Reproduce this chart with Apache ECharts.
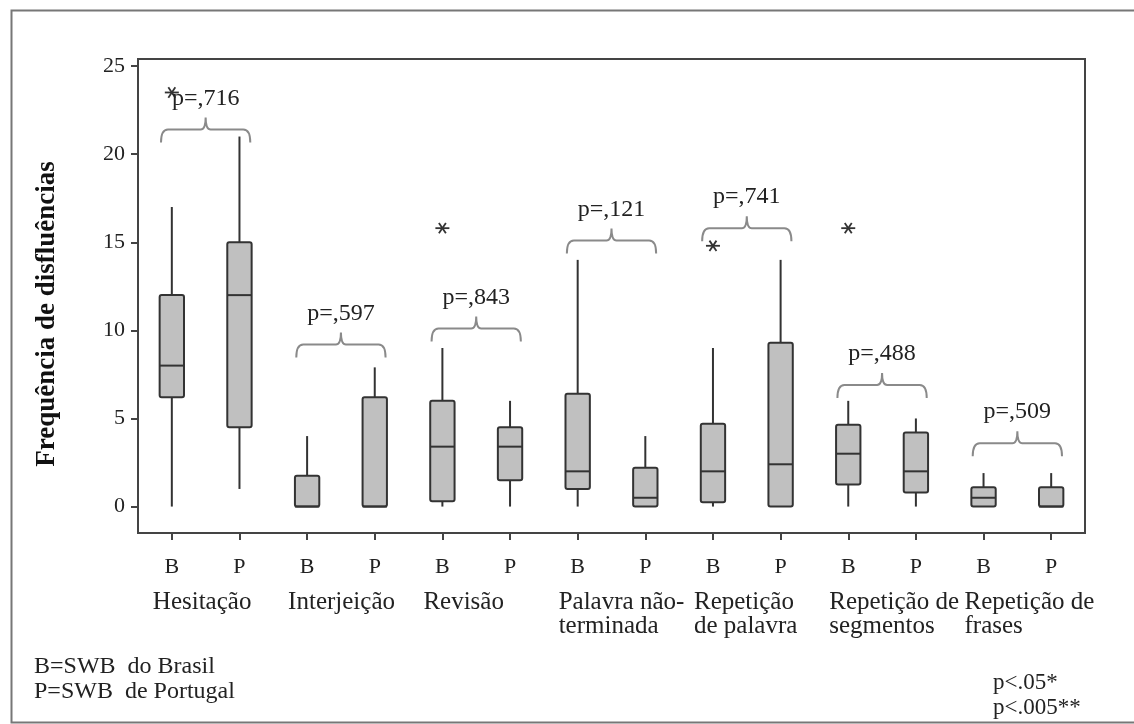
<!DOCTYPE html>
<html><head><meta charset="utf-8">
<script src="https://cdn.jsdelivr.net/npm/echarts@6/dist/echarts.min.js"></script>
<style>html,body{margin:0;padding:0;background:#fff}#c{width:1134px;height:724px}</style>
</head><body><div id="c"></div>
<script>
// ---------- data ----------
const groups = ['Hesitação', 'Interjeição', 'Revisão', 'Palavra não-\nterminada', 'Repetição\nde palavra', 'Repetição de\nsegmentos', 'Repetição de\nfrases'];
const countries = ['B', 'P'];
const categories = ['B','P','B','P','B','P','B','P','B','P','B','P','B','P'];
// [min, Q1, median, Q3, max]
const boxB = [[0,6.2,8,12,17],[0,0,0,1.75,4],[0,0.3,3.4,6,9],[0,1,2,6.4,14],[0,0.25,2,4.7,9],[0,1.25,3,4.65,6],[0,0,0.5,1.1,1.9]];
const boxP = [[1,4.5,12,15,21],[0,0,0,6.2,7.9],[0,1.5,3.4,4.5,6],[0,0,0.5,2.2,4],[0,0,2.4,9.3,14],[0,0.8,2,4.2,5],[0,0,0,1.1,1.9]];
// outliers: [category index, value]
const outliers = [[0,23.5],[4,15.8],[8,14.8],[10,15.8]];
const pLabels = ['p=,716','p=,597','p=,843','p=,121','p=,741','p=,488','p=,509'];
const braceLevels = [21.4, 9.2, 10.1, 15.1, 15.8, 6.9, 3.6];
const yTicks = [0, 5, 10, 15, 20, 25];
const yTitle = 'Frequência de disfluências';
const legendLeft = ['B=SWB  do Brasil', 'P=SWB  de Portugal'];
const legendRight = ['p<.05*', 'p<.005**'];

// ---------- build ----------
const SERIF = '"Liberation Serif", "DejaVu Serif", serif';
const boxData = [];
groups.forEach((g, i) => {
  boxData.push([2 * i].concat(boxB[i]));
  boxData.push([2 * i + 1].concat(boxP[i]));
});
const braceData = braceLevels.map((lv, i) => [2 * i, lv, pLabels[i]]);
const groupData = groups.map((g, i) => [2 * i, 0, g]);

function renderBox(params, api) {
  const x = api.value(0);
  const pMin = api.coord([x, api.value(1)]);
  const pQ1 = api.coord([x, api.value(2)]);
  const pMed = api.coord([x, api.value(3)]);
  const pQ3 = api.coord([x, api.value(4)]);
  const pMax = api.coord([x, api.value(5)]);
  const w = api.size([1, 0])[0] * 0.36;
  const cx = pMin[0];
  const ls = { stroke: '#333', lineWidth: 2 };
  return { type: 'group', children: [
    { type: 'line', shape: { x1: cx, y1: pMax[1], x2: cx, y2: pQ3[1] }, style: ls },
    { type: 'line', shape: { x1: cx, y1: pQ1[1], x2: cx, y2: pMin[1] }, style: ls },
    { type: 'rect', shape: { x: cx - w / 2, y: pQ3[1], width: w, height: pQ1[1] - pQ3[1], r: 2 }, style: { fill: '#c0c0c0', stroke: '#333', lineWidth: 2 } },
    { type: 'line', shape: { x1: cx - w / 2, y1: pMed[1], x2: cx + w / 2, y2: pMed[1] }, style: ls }
  ]};
}

function renderBrace(params, api) {
  const i0 = api.value(0);
  const pB = api.coord([i0, api.value(1)]);
  const pP = api.coord([i0 + 1, api.value(1)]);
  const cw = api.size([1, 0])[0];
  const x0 = pB[0] - cw * 0.16, x1 = pP[0] + cw * 0.16, y = pB[1];
  const xc = (x0 + x1) / 2, d = 13, r = 7;
  const path = `M${x0},${y + d} Q${x0},${y} ${x0 + r},${y} L${xc - 5},${y} Q${xc},${y} ${xc},${y - d + 1} Q${xc},${y} ${xc + 5},${y} L${x1 - r},${y} Q${x1},${y} ${x1},${y + d}`;
  return { type: 'group', children: [
    { type: 'path', shape: { pathData: path }, style: { fill: null, stroke: '#8a8a8a', lineWidth: 2 } },
    { type: 'text', x: xc, y: y - 31, style: { text: pLabels[params.dataIndex], font: '24px ' + SERIF, fill: '#222', align: 'center', verticalAlign: 'middle' } }
  ]};
}

function renderOutlier(params, api) {
  const p = api.coord([api.value(0), api.value(1)]);
  const r = 7, ch = [];
  [0, 60, 120].forEach(a => {
    const t = a * Math.PI / 180;
    ch.push({ type: 'line', shape: { x1: p[0] - r * Math.cos(t), y1: p[1] - r * Math.sin(t) * 0.85, x2: p[0] + r * Math.cos(t), y2: p[1] + r * Math.sin(t) * 0.85 }, style: { stroke: '#333', lineWidth: 1.8 } });
  });
  return { type: 'group', children: ch };
}

function renderGroup(params, api) {
  const p = api.coord([api.value(0), 0]);
  const cs = params.coordSys;
  const bottom = cs.y + cs.height;
  return { type: 'text', x: p[0] - 19, y: bottom + 57, style: { text: groups[params.dataIndex], font: '25px ' + SERIF, fill: '#222', align: 'left', verticalAlign: 'top', lineHeight: 24 } };
}

const chart = echarts.init(document.getElementById('c'), null, { renderer: 'canvas' });
chart.setOption({
  backgroundColor: '#fff',
  animation: false,
  grid: { left: 138, top: 59, right: 49, bottom: 191, show: true, borderColor: '#444', borderWidth: 2, backgroundColor: 'transparent' },
  xAxis: {
    type: 'category', data: categories, boundaryGap: true,
    axisLine: { onZero: false, lineStyle: { color: '#444', width: 2 } },
    axisTick: { show: true, alignWithLabel: true, length: 7, lineStyle: { color: '#444', width: 2 } },
    axisLabel: { color: '#222', fontFamily: SERIF, fontSize: 22, margin: 23, interval: 0 },
    splitLine: { show: false }
  },
  yAxis: {
    type: 'value', min: -1.5, max: 25.4,
    axisLine: { show: true, lineStyle: { color: '#444', width: 2 } },
    axisTick: { show: true, length: 7, customValues: yTicks, lineStyle: { color: '#444', width: 2 } },
    axisLabel: { color: '#222', fontFamily: SERIF, fontSize: 22, margin: 13, customValues: yTicks },
    splitLine: { show: false }
  },
  series: [
    { type: 'custom', name: 'boxes', renderItem: renderBox, data: boxData, clip: false, encode: { x: 0, y: [1, 2, 3, 4, 5] } },
    { type: 'custom', name: 'outliers', renderItem: renderOutlier, data: outliers, clip: false, encode: { x: 0, y: 1 } },
    { type: 'custom', name: 'braces', renderItem: renderBrace, data: braceData, clip: false, encode: { x: 0, y: 1 } },
    { type: 'custom', name: 'groups', renderItem: renderGroup, data: groupData, clip: false, encode: { x: 0, y: 1 }, silent: true }
  ],
  graphic: [
    { type: 'rect', left: 9, top: 8, shape: { width: 1140, height: 712 }, style: { fill: null, stroke: '#777', lineWidth: 2 }, silent: true },
    { type: 'text', x: 47, y: 314, rotation: Math.PI / 2, style: { text: yTitle, font: 'bold 27px ' + SERIF, fill: '#111', align: 'center', verticalAlign: 'middle' } },
    { type: 'text', x: 34, y: 667, style: { text: legendLeft[0], font: '24px ' + SERIF, fill: '#222', verticalAlign: 'middle' } },
    { type: 'text', x: 34, y: 692, style: { text: legendLeft[1], font: '24px ' + SERIF, fill: '#222', verticalAlign: 'middle' } },
    { type: 'text', x: 993, y: 683, style: { text: legendRight[0], font: '23px ' + SERIF, fill: '#222', verticalAlign: 'middle' } },
    { type: 'text', x: 993, y: 708, style: { text: legendRight[1], font: '23px ' + SERIF, fill: '#222', verticalAlign: 'middle' } }
  ]
});
</script>
</body></html>
